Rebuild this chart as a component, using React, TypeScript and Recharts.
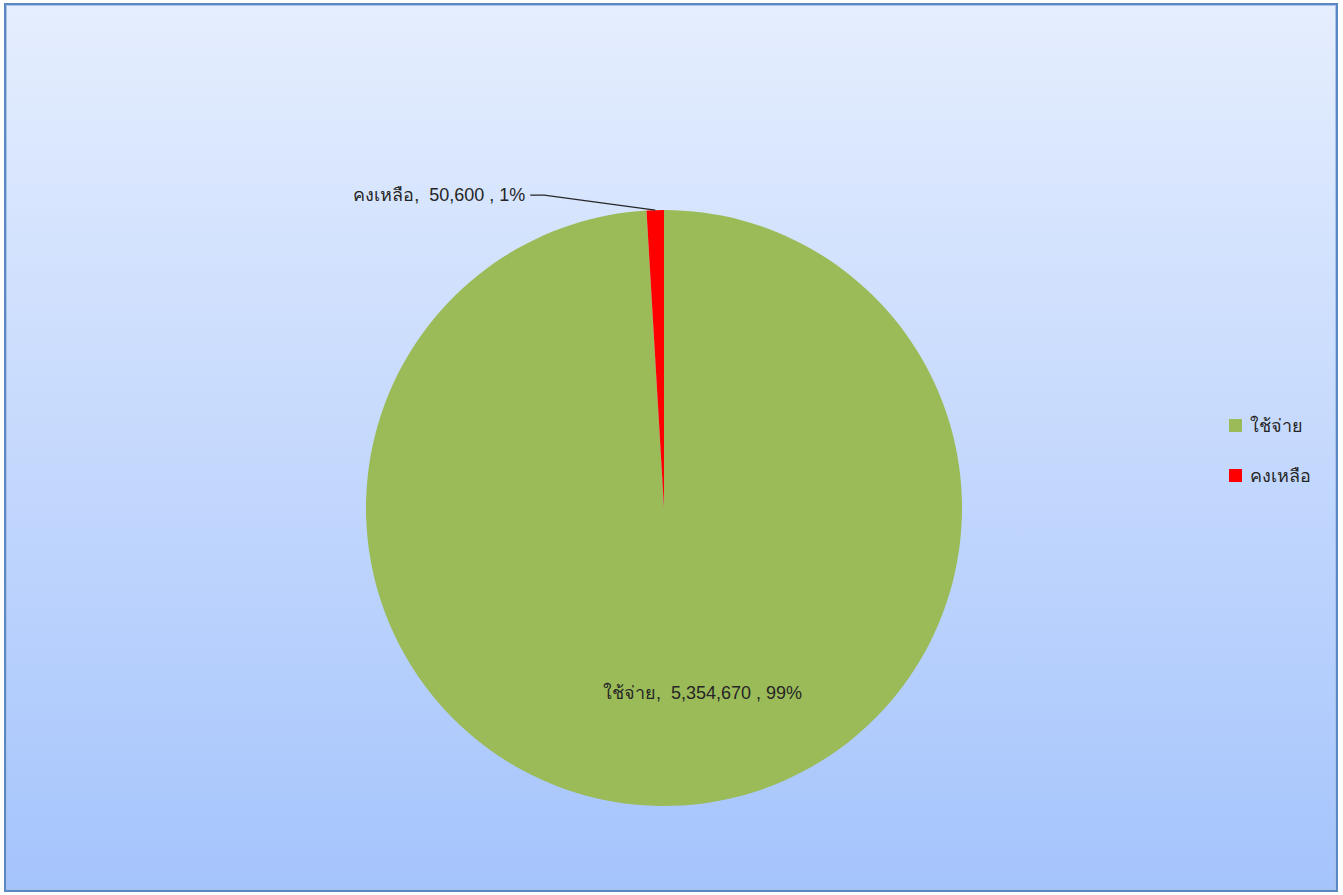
import React from 'react';
import { PieChart, Pie, Cell, Legend } from 'recharts';

const categories = ['ใช้จ่าย', 'คงเหลือ'];
const values = [5354670, 50600];
const percentLabels = ['99%', '1%'];
const colors = ['#9BBB59', '#FF0000'];

const data = categories.map((name, i) => ({ name, value: values[i], pct: percentLabels[i] }));

const FONT = '"Liberation Sans", Arial, "DejaVu Sans", sans-serif';
const RAD = Math.PI / 180;

const fmt = (v: number) => v.toLocaleString('en-US');

const renderLabel = (props: any) => {
  const { cx, cy, midAngle, outerRadius, index, payload } = props;
  const text = `${payload.name},\u00A0\u00A0${fmt(payload.value)}\u00A0,\u00A0${payload.pct}`;
  if (index === 0) {
    const r = outerRadius * 0.62;
    const x = cx + r * Math.cos(-midAngle * RAD) + 33;
    const y = cy - r * Math.sin(midAngle * RAD);
    return (
      <text x={x} y={y} fill="#262626" fontSize={18} fontFamily={FONT} textAnchor="middle" dominantBaseline="central">
        {text}
      </text>
    );
  }
  const ex = cx + outerRadius * Math.cos(-midAngle * RAD);
  const ey = cy + outerRadius * Math.sin(-midAngle * RAD);
  const tx = ex - 125;
  const ty = ey - 15;
  return (
    <g>
      <polyline points={`${ex},${ey} ${tx + 14},${ty} ${tx},${ty}`} fill="none" stroke="#262626" strokeWidth={1.2} />
      <text x={tx - 5} y={ty} fill="#262626" fontSize={18} fontFamily={FONT} textAnchor="end" dominantBaseline="central">
        {text}
      </text>
    </g>
  );
};

const renderLegend = () => (
  <div style={{ fontFamily: FONT, fontSize: 18, color: '#262626' }}>
    {categories.map((name, i) => (
      <div key={name} style={{ display: 'flex', alignItems: 'center', height: 25, marginBottom: i === 0 ? 25 : 0 }}>
        <span style={{ display: 'inline-block', width: 13, height: 13, background: colors[i], marginRight: 8 }} />
        <span>{name}</span>
      </div>
    ))}
  </div>
);

export default function App() {
  return (
    <div
      style={{
        position: 'absolute',
        left: 0,
        top: 0,
        width: 1343,
        height: 895,
        background: '#ffffff',
      }}
    >
      <div
        style={{
          position: 'absolute',
          left: 4,
          top: 3,
          width: 1330,
          height: 885,
          border: '2px solid #5B87C5',
          boxShadow: 'inset 0 0 0 1px #A9C3E8',
          background: 'linear-gradient(to bottom, #E5EEFE 0%, #A5C4FC 100%)',
        }}
      />
      <div style={{ position: 'absolute', left: 0, top: 0 }}>
        <PieChart width={1343} height={895} margin={{ top: 0, right: 0, bottom: 0, left: 0 }}>
          <Pie
            data={data}
            dataKey="value"
            nameKey="name"
            cx={664}
            cy={508}
            outerRadius={298}
            startAngle={90}
            endAngle={-270}
            stroke="none"
            label={renderLabel}
            labelLine={false}
            isAnimationActive={false}
          >
            {data.map((d, i) => (
              <Cell key={d.name} fill={colors[i]} />
            ))}
          </Pie>
          <Legend
            layout="vertical"
            align="right"
            verticalAlign="top"
            content={renderLegend}
            wrapperStyle={{ left: 1229, top: 413, width: 110 }}
          />
        </PieChart>
      </div>
    </div>
  );
}
